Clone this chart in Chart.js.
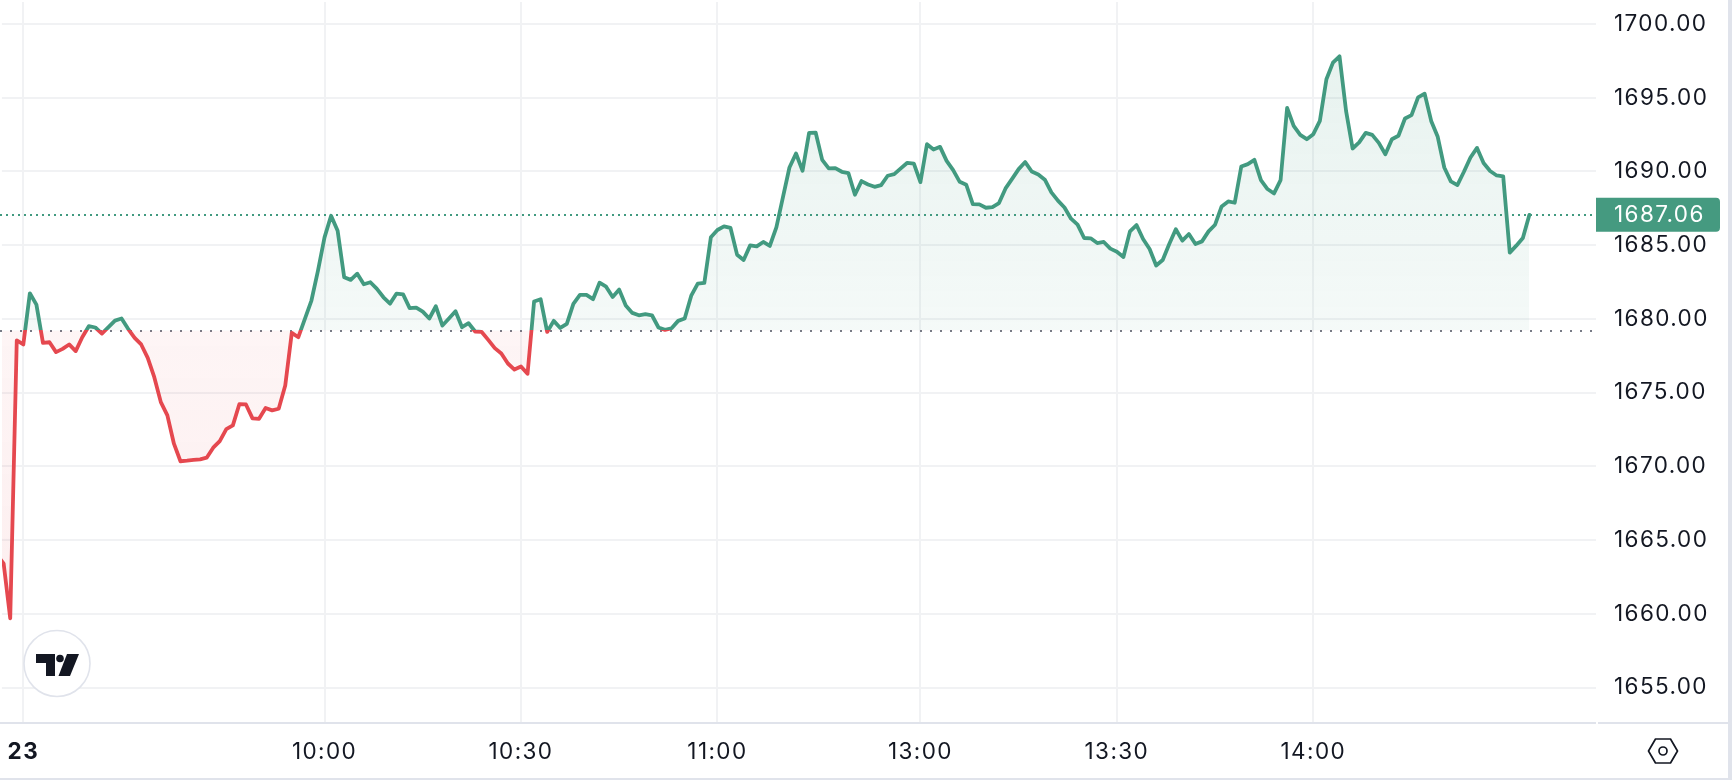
<!DOCTYPE html>
<html>
<head>
<meta charset="utf-8">
<style>
html,body{margin:0;padding:0;background:#fff;overflow:hidden}
#wrap{position:relative;width:1732px;height:780px}
canvas{position:absolute;left:0;top:0}
svg{position:absolute;left:0;top:0;pointer-events:none}
</style>
<script src="https://cdn.jsdelivr.net/npm/chart.js@4/dist/chart.umd.min.js"></script>
</head>
<body>
<div id="wrap">
<canvas id="c" width="1732" height="780"></canvas>
<svg width="1732" height="780" viewBox="0 0 1732 780">
  <circle cx="57" cy="663.5" r="33" fill="#fff" stroke="#e0e3eb" stroke-width="1.6"/>
  <path d="M36 654H55V676H46V663H36Z" fill="#131722"/>
  <circle cx="60" cy="658.5" r="3.8" fill="#131722"/>
  <path d="M67 654H79L70 676H58.5Z" fill="#131722"/>
  <path d="M1648.5 751L1655.5 739H1670.5L1677.5 751L1670.5 763H1655.5Z" fill="none" stroke="#131722" stroke-width="1.7" stroke-linejoin="round"/>
  <circle cx="1663" cy="751" r="4" fill="none" stroke="#131722" stroke-width="1.7"/>
</svg>
</div>
<script>
const xTickIndex = [4, 50, 80, 110, 141, 171, 201];
const xTickLabels = ['23', '10:00', '10:30', '11:00', '13:00', '13:30', '14:00'];
const yTicks = [1655, 1660, 1665, 1670, 1675, 1680, 1685, 1690, 1695, 1700];
const baseValue = 1679.21;
const lastValue = 1687.06;
const prices = [
1664.00,
1663.40,1659.70,1678.54,1678.27,1681.74,1680.97,1678.38,1678.42,1677.75,1677.97,
1678.27,1677.82,1678.76,1679.51,1679.42,1679.01,1679.44,1679.89,1680.03,1679.33,
1678.72,1678.27,1677.36,1676.05,1674.36,1673.46,1671.54,1670.35,1670.39,1670.44,
1670.48,1670.59,1671.27,1671.72,1672.53,1672.78,1674.23,1674.20,1673.26,1673.23,
1673.96,1673.80,1673.91,1675.49,1679.06,1678.76,1680.00,1681.25,1683.28,1685.53,
1687.00,1685.98,1682.83,1682.65,1683.07,1682.35,1682.49,1682.04,1681.47,1681.04,
1681.72,1681.67,1680.73,1680.77,1680.50,1680.03,1680.86,1679.55,1680.03,1680.52,
1679.44,1679.71,1679.15,1679.12,1678.58,1678.02,1677.66,1676.98,1676.57,1676.78,
1676.28,1681.18,1681.34,1679.12,1679.87,1679.39,1679.67,1681.02,1681.63,1681.63,
1681.34,1682.46,1682.19,1681.49,1681.99,1680.91,1680.41,1680.25,1680.32,1680.25,
1679.42,1679.26,1679.37,1679.87,1680.03,1681.58,1682.40,1682.44,1685.54,1686.03,
1686.28,1686.17,1684.36,1684.00,1684.99,1684.92,1685.22,1684.95,1686.21,1688.24,
1690.27,1691.22,1690.05,1692.62,1692.64,1690.79,1690.21,1690.23,1689.98,1689.89,
1688.42,1689.35,1689.12,1688.96,1689.08,1689.71,1689.82,1690.21,1690.59,1690.54,
1689.28,1691.85,1691.49,1691.67,1690.72,1690.09,1689.30,1689.10,1687.79,1687.77,
1687.54,1687.59,1687.86,1688.85,1689.50,1690.16,1690.64,1690.00,1689.80,1689.44,
1688.58,1688.02,1687.56,1686.80,1686.40,1685.49,1685.47,1685.15,1685.22,1684.77,
1684.56,1684.20,1685.94,1686.37,1685.42,1684.74,1683.62,1684.00,1685.08,1686.08,
1685.31,1685.76,1685.08,1685.26,1685.94,1686.39,1687.63,1687.97,1687.88,1690.34,
1690.50,1690.79,1689.41,1688.81,1688.51,1689.41,1694.31,1693.09,1692.48,1692.19,
1692.53,1693.43,1696.25,1697.38,1697.81,1694.11,1691.56,1691.97,1692.62,1692.48,
1691.94,1691.17,1692.19,1692.42,1693.59,1693.82,1695.03,1695.28,1693.43,1692.35,
1690.27,1689.33,1689.08,1689.98,1690.95,1691.60,1690.57,1690.03,1689.73,1689.66,
1684.50,1684.97,1685.49,1687.06
];

const GREEN = '#429a80', RED = '#e5484f', GREY = '#787b86', GRID = '#f1f2f4', INK = '#131722', RULE = '#e0e3eb';
const FONT = 'Inter, "Noto Sans", sans-serif';
const FSIZE = 22.5;

function noPadding(s) { s.paddingLeft = s.paddingRight = s.paddingTop = s.paddingBottom = 0; }

const chrome = {
  id: 'chrome',
  beforeDraw(chart) { chart.ctx.letterSpacing = '1.4px'; },
  beforeDatasetsDraw(chart) {
    const {ctx, chartArea: a, scales: {y}} = chart;
    ctx.save();
    ctx.lineWidth = 2;
    ctx.setLineDash([2, 8]);
    ctx.strokeStyle = GREY;
    let py = Math.round(y.getPixelForValue(baseValue));
    ctx.beginPath(); ctx.moveTo(0, py); ctx.lineTo(a.right - 4, py); ctx.stroke();
    ctx.setLineDash([2, 4]);
    ctx.strokeStyle = GREEN;
    py = Math.round(y.getPixelForValue(lastValue));
    ctx.beginPath(); ctx.moveTo(0, py); ctx.lineTo(a.right - 4, py); ctx.stroke();
    ctx.restore();
  },
  afterDraw(chart) {
    const {ctx, chartArea: a, scales: {y}} = chart;
    ctx.save();
    ctx.fillStyle = RULE;
    ctx.fillRect(0, 722, a.right, 2);
    ctx.fillRect(a.right + 2, 722, 1728 - a.right - 2, 2);
    ctx.fillRect(1728, 0, 4, 780);
    ctx.fillRect(0, 778, 1732, 2);
    const py = y.getPixelForValue(lastValue);
    ctx.fillStyle = '#459a80';
    ctx.beginPath();
    ctx.roundRect(a.right, py - 17, 124, 34, [0, 4, 4, 0]);
    ctx.fill();
    ctx.fillStyle = '#ffffff';
    ctx.font = FSIZE + 'px ' + FONT;
    ctx.textAlign = 'left';
    ctx.textBaseline = 'middle';
    ctx.fillText(lastValue.toFixed(2), a.right + 18, py + 0.5);
    ctx.restore();
  }
};

const chart = new Chart(document.getElementById('c'), {
  type: 'line',
  data: {
    datasets: [{
      data: prices.map((v, i) => ({x: i, y: v})),
      borderColor: GREEN,
      borderWidth: 3.8,
      borderJoinStyle: 'round',
      borderCapStyle: 'round',
      pointRadius: 0,
      tension: 0,
      fill: false
    }]
  },
  plugins: [chrome],
  options: {
    responsive: false,
    animation: false,
    devicePixelRatio: 1,
    events: [],
    layout: {padding: 0},
    plugins: {legend: {display: false}, tooltip: {enabled: false}},
    scales: {
      x: {
        type: 'linear',
        min: 0.73,
        max: 244.17,
        afterBuildTicks(s) { s.ticks = xTickIndex.map(v => ({value: v})); },
        afterFit(s) { s.height = 57; noPadding(s); },
        border: {display: false},
        grid: {color: GRID, lineWidth: 2, drawTicks: false},
        ticks: {
          autoSkip: false, maxRotation: 0, padding: 16, color: INK,
          font: ctx => ({family: FONT, size: FSIZE, weight: ctx.index === 0 ? '700' : '400'}),
          callback: v => xTickLabels[xTickIndex.indexOf(v)]
        }
      },
      y: {
        position: 'right',
        min: 1652.6,
        max: 1701.5,
        afterBuildTicks(s) { s.ticks = yTicks.map(v => ({value: v})); },
        afterFit(s) { s.width = 136; noPadding(s); },
        border: {display: false},
        grid: {color: GRID, lineWidth: 2, drawTicks: false},
        ticks: {
          padding: 18, color: INK,
          font: {family: FONT, size: FSIZE},
          callback: v => Number(v).toFixed(2)
        }
      }
    }
  }
});

const {ctx, scales: {y}} = chart;
const by = y.getPixelForValue(baseValue);
const H = y.getPixelForValue(y.min);
const stop = by / H;
const line = ctx.createLinearGradient(0, 0, 0, H);
line.addColorStop(0, GREEN); line.addColorStop(stop, GREEN);
line.addColorStop(stop, RED); line.addColorStop(1, RED);
const topPx = y.getPixelForValue(Math.max(...prices));
const lowPx = y.getPixelForValue(Math.min(...prices));
const above = ctx.createLinearGradient(0, topPx, 0, by);
above.addColorStop(0, 'rgba(66,154,128,0.125)');
above.addColorStop(1, 'rgba(66,154,128,0.055)');
const below = ctx.createLinearGradient(0, by, 0, lowPx);
below.addColorStop(0, 'rgba(229,72,79,0.055)');
below.addColorStop(1, 'rgba(229,72,79,0.09)');
const ds = chart.data.datasets[0];
ds.borderColor = line;
ds.fill = {target: {value: baseValue}, above, below};
chart.update('none');
</script>
</body>
</html>
